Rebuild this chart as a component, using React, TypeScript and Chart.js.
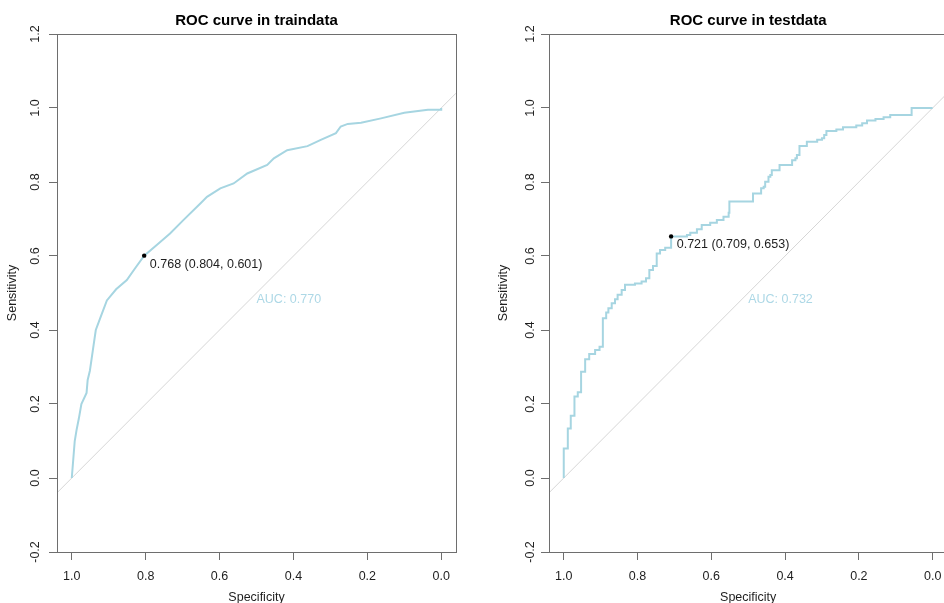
import React, { useEffect, useRef } from "react";
import { Chart, registerables } from "chart.js";

Chart.register(...registerables);

// ---------- data ----------
const xTicks = [1.0, 0.8, 0.6, 0.4, 0.2, 0.0];
const yTicks = [-0.2, 0.0, 0.2, 0.4, 0.6, 0.8, 1.0, 1.2];
const xMin = -0.04;
const xMax = 1.04;
const yMin = -0.2;
const yMax = 1.2;

// train ROC (specificity, sensitivity)
const trainSpec = [
  1.0, 0.996, 0.992, 0.987, 0.981, 0.974, 0.96, 0.957, 0.951, 0.943, 0.935, 0.92,
  0.905, 0.88, 0.851, 0.83, 0.804, 0.77, 0.734, 0.698, 0.652, 0.634, 0.598, 0.562,
  0.525, 0.471, 0.453, 0.417, 0.362, 0.326, 0.285, 0.272, 0.253, 0.217, 0.163, 0.1,
  0.036, 0.0, 0.0,
];
const trainSens = [
  0.0, 0.05, 0.1, 0.13, 0.16, 0.2, 0.23, 0.265, 0.29, 0.345, 0.4, 0.44,
  0.48, 0.51, 0.535, 0.565, 0.601, 0.63, 0.661, 0.697, 0.742, 0.76, 0.783, 0.796,
  0.823, 0.846, 0.864, 0.886, 0.897, 0.914, 0.932, 0.95, 0.957, 0.96, 0.972, 0.987,
  0.995, 0.995, 1.0,
];

// test ROC step risers (specificity, sensitivity at top of each riser)
const testSpec = [
  1.0, 1.0, 0.989, 0.981, 0.971, 0.962, 0.953, 0.942, 0.931, 0.915, 0.903, 0.894,
  0.885, 0.879, 0.87, 0.861, 0.854, 0.843, 0.834, 0.807, 0.789, 0.777, 0.768, 0.758,
  0.748, 0.739, 0.725, 0.709, 0.666, 0.657, 0.639, 0.626, 0.603, 0.585, 0.567, 0.553,
  0.551, 0.487, 0.465, 0.458, 0.454, 0.445, 0.44, 0.436, 0.415, 0.381, 0.372, 0.368,
  0.361, 0.341, 0.313, 0.3, 0.294, 0.288, 0.261, 0.243, 0.207, 0.191, 0.178, 0.155,
  0.133, 0.115, 0.057, 0.0,
];
const testSens = [
  0.0, 0.08, 0.134, 0.168, 0.22, 0.232, 0.287, 0.321, 0.335, 0.346, 0.355, 0.432,
  0.447, 0.459, 0.472, 0.483, 0.495, 0.508, 0.522, 0.526, 0.531, 0.54, 0.562, 0.573,
  0.607, 0.616, 0.622, 0.653, 0.657, 0.663, 0.672, 0.684, 0.69, 0.697, 0.706, 0.717,
  0.747, 0.769, 0.783, 0.787, 0.801, 0.814, 0.819, 0.832, 0.846, 0.859, 0.864, 0.873,
  0.897, 0.909, 0.914, 0.918, 0.927, 0.938, 0.942, 0.948, 0.953, 0.959, 0.966, 0.97,
  0.975, 0.981, 1.0, 1.0,
];

const trainBest = [0.768, 0.804, 0.601]; // threshold, specificity, sensitivity
const testBest = [0.721, 0.709, 0.653];
const trainAuc = 0.77;
const testAuc = 0.732;
const aucPos = [0.5, 0.5];

// ---------- style ----------
const FONT = '"Liberation Sans", Arial, Helvetica, sans-serif';
const CURVE = "#a6d5e1";
const AUC_COLOR = "#add8e6";
const DIAG = "#d6d6d6";
const BOX = "#6e6e6e";
const TEXT = "#1e1e1e";

const annotPlugin = {
  id: "annot",
  afterDatasetsDraw(chart: any, _args: any, opts: any) {
    const { ctx, chartArea: a, scales } = chart;
    const x = scales.x;
    const y = scales.y;
    ctx.save();
    // box
    ctx.strokeStyle = BOX;
    ctx.lineWidth = 1;
    ctx.strokeRect(
      Math.round(a.left) + 0.5,
      Math.round(a.top) + 0.5,
      Math.round(a.right) - Math.round(a.left),
      Math.round(a.bottom) - Math.round(a.top)
    );
    ctx.font = `12.5px ${FONT}`;
    // AUC text
    ctx.fillStyle = AUC_COLOR;
    ctx.textAlign = "left";
    ctx.textBaseline = "top";
    ctx.fillText(
      "AUC: " + opts.auc.toFixed(3),
      x.getPixelForValue(aucPos[0]),
      y.getPixelForValue(aucPos[1])
    );
    // threshold text
    const b = opts.best;
    const label = `${b[0].toFixed(3)} (${b[1].toFixed(3)}, ${b[2].toFixed(3)})`;
    const w = ctx.measureText(label).width;
    ctx.fillStyle = TEXT;
    ctx.textBaseline = "middle";
    ctx.fillText(label, x.getPixelForValue(b[1]) + 0.05 * w, y.getPixelForValue(b[2]) + 8.5);
    ctx.restore();
  },
};

type PanelProps = {
  left: number;
  width: number;
  title: string;
  spec: number[];
  sens: number[];
  stepped: boolean;
  best: number[];
  auc: number;
  yAxisW: number;
  padRight: number;
  yTickPad: number;
  yTitlePad: number;
};

const CANVAS_H = 625;
const PLOT_BOTTOM = 552;

function Panel(p: PanelProps) {
  const ref = useRef<HTMLCanvasElement | null>(null);
  useEffect(() => {
    if (!ref.current) return;
    const tickFont = { family: FONT, size: 12.5 };
    const chart = new Chart(ref.current, {
      type: "line",
      data: {
        datasets: [
          {
            data: [
              { x: xMax, y: 1 - xMax },
              { x: xMin, y: 1 - xMin },
            ],
            borderColor: DIAG,
            borderWidth: 1,
            pointRadius: 0,
            fill: false,
            order: 3,
            clip: 0,
          } as any,
          {
            data: p.spec.map((s, i) => ({ x: s, y: p.sens[i] })),
            borderColor: CURVE,
            borderWidth: 2,
            pointRadius: 0,
            fill: false,
            stepped: p.stepped ? "before" : false,
            tension: 0,
            order: 2,
          } as any,
          {
            data: [{ x: p.best[1], y: p.best[2] }],
            showLine: false,
            pointRadius: 2.2,
            pointBackgroundColor: "#000",
            pointBorderColor: "#000",
            pointBorderWidth: 0,
            order: 1,
          } as any,
        ],
      },
      options: {
        animation: false,
        responsive: false,
        devicePixelRatio: 1,
        layout: { padding: { left: 0, right: p.padRight, top: 0, bottom: 0 } },
        plugins: {
          legend: { display: false },
          tooltip: { enabled: false },
          title: {
            display: true,
            text: p.title,
            fullSize: false,
            color: "#000",
            font: { family: FONT, size: 15, weight: "bold" },
            padding: { top: 11.5, bottom: 4.5 },
          },
          annot: { best: p.best, auc: p.auc },
        } as any,
        scales: {
          x: {
            type: "linear",
            reverse: true,
            min: xMin,
            max: xMax,
            afterBuildTicks: (s: any) => {
              s.ticks = xTicks.map((v) => ({ value: v }));
            },
            afterFit: (s: any) => {
              s.height = CANVAS_H - PLOT_BOTTOM;
            },
            ticks: {
              callback: (v: any) => Number(v).toFixed(1),
              font: tickFont,
              color: TEXT,
              padding: 9,
              maxRotation: 0,
              autoSkip: false,
            },
            grid: { drawOnChartArea: false, drawTicks: true, tickLength: 8, color: BOX, lineWidth: 1 },
            border: { display: false },
            title: {
              display: true,
              text: "Specificity",
              font: tickFont,
              color: TEXT,
              padding: { top: 0, bottom: 19.5 },
            },
          },
          y: {
            type: "linear",
            min: yMin,
            max: yMax,
            afterBuildTicks: (s: any) => {
              s.ticks = yTicks.map((v) => ({ value: v }));
            },
            afterFit: (s: any) => {
              s.width = p.yAxisW;
            },
            ticks: {
              callback: (v: any) => Number(v).toFixed(1),
              font: tickFont,
              color: TEXT,
              padding: p.yTickPad,
              minRotation: 90,
              maxRotation: 90,
              crossAlign: "center",
              autoSkip: false,
            },
            grid: { drawOnChartArea: false, drawTicks: true, tickLength: 8, color: BOX, lineWidth: 1 },
            border: { display: false },
            title: {
              display: true,
              text: "Sensitivity",
              font: tickFont,
              color: TEXT,
              padding: { top: p.yTitlePad, bottom: 0 },
            },
          },
        },
      } as any,
      plugins: [annotPlugin as any],
    });
    return () => chart.destroy();
  }, []);
  return (
    <div style={{ position: "absolute", left: p.left, top: 0, width: p.width, height: CANVAS_H }}>
      <canvas ref={ref} width={p.width} height={CANVAS_H} style={{ display: "block", width: p.width, height: CANVAS_H }} />
    </div>
  );
}

export default function App() {
  return (
    <div
      style={{
        position: "fixed",
        left: 0,
        top: 0,
        width: 944,
        height: 603,
        overflow: "hidden",
        background: "#fff",
      }}
    >
      <Panel
        left={0}
        width={472}
        title="ROC curve in traindata"
        spec={trainSpec}
        sens={trainSens}
        stepped={false}
        best={trainBest}
        auc={trainAuc}
        yAxisW={57}
        padRight={16}
        yTickPad={2.6}
        yTitlePad={5}
      />
      <Panel
        left={472}
        width={490}
        title="ROC curve in testdata"
        spec={testSpec}
        sens={testSens}
        stepped={true}
        best={testBest}
        auc={testAuc}
        yAxisW={77}
        padRight={14.6}
        yTickPad={-0.5}
        yTitlePad={24}
      />
    </div>
  );
}
